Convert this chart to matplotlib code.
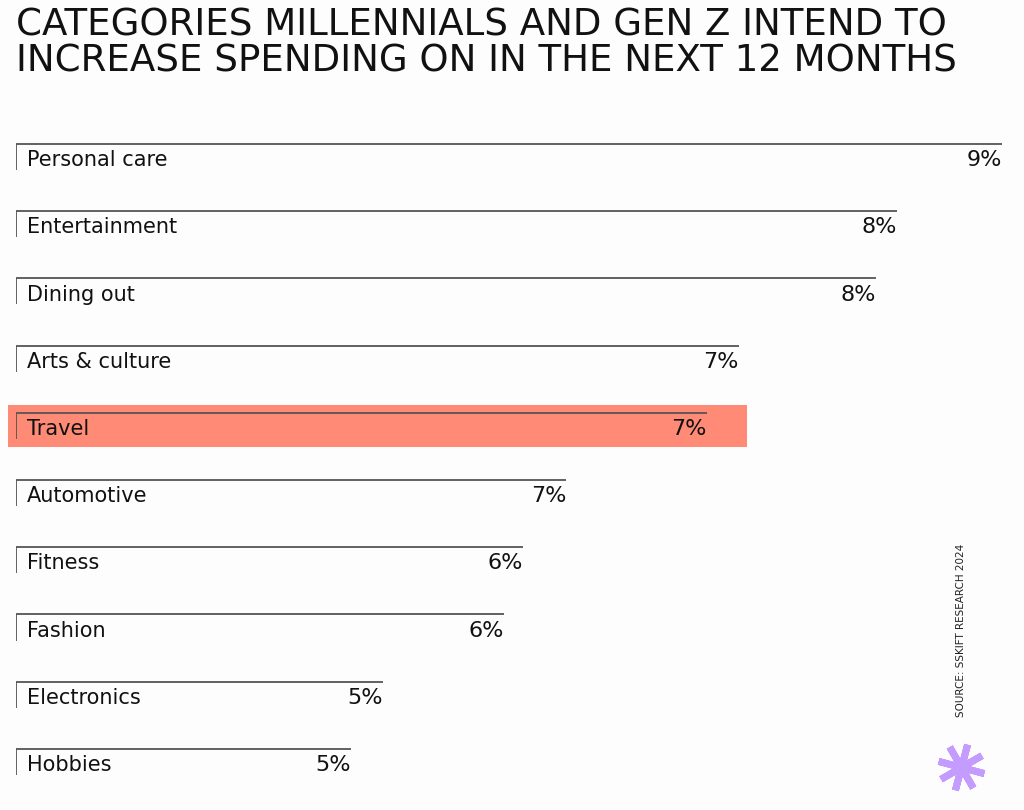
# Categories millennials and Gen Z intend to increase spending on (Skift Research 2024)
import matplotlib.pyplot as plt
from matplotlib.patches import Rectangle

# data (bar lengths are the underlying shares, labels are the printed rounded values)
categories = ['Personal care', 'Entertainment', 'Dining out', 'Arts & culture', 'Travel',
              'Automotive', 'Fitness', 'Fashion', 'Electronics', 'Hobbies']
values = [8.96, 8.37, 8.25, 7.48, 7.30, 6.51, 6.27, 6.16, 5.48, 5.30]
value_labels = ['9%', '8%', '8%', '7%', '7%', '7%', '6%', '6%', '5%', '5%']
highlight = 'Travel'

x_start = 3.42          # where the bars start on the value axis
line_col = '#555555'
hi_col = '#ff8a75'

plt.rcParams['font.family'] = ['DejaVu Sans']

W, H = 1024, 810
fig = plt.figure(figsize=(W / 100, H / 100), dpi=100, facecolor='#fdfdfd')

# main axes: left edge at bar start, one unit per category row
ax = fig.add_axes([16 / W, 10 / H, 1000 / W, 690 / H])
ax.set_xlim(x_start, x_start + 1000 / 178)
ax.set_ylim(9.76, -0.506)
ax.axis('off')

tick_len = 0.387
for i, (cat, v, lab) in enumerate(zip(categories, values, value_labels)):
    if cat == highlight:
        ax.add_patch(Rectangle((x_start - 8 / 178, i - 0.116), 739 / 178, 0.625,
                               facecolor=hi_col, edgecolor='none', zorder=0, clip_on=False))
    ax.hlines(i, x_start, v, color=line_col, lw=1.3, zorder=2)
    ax.vlines(x_start, i, i + tick_len, color=line_col, lw=1.3, zorder=2)
    ax.text(x_start + 11 / 178, i + 0.24, cat, fontsize=15, color='#111111',
            ha='left', va='center', zorder=3)
    ax.text(v, i + 0.24, lab, fontsize=16, color='#111111', ha='right', va='center',
            zorder=3)

# title
fig.text(16 / W, 1 - 7 / H, 'CATEGORIES MILLENNIALS AND GEN Z INTEND TO\nINCREASE SPENDING ON IN THE NEXT 12 MONTHS',
         fontsize=26.7, color='#111111', ha='left', va='top', linespacing=0.95)

# source note
fig.text(961 / W, 1 - 630 / H, 'SOURCE: SSKIFT RESEARCH 2024', fontsize=7.5, color='#222222',
         rotation=90, ha='center', va='center')

# purple asterisk logo
logo = fig.add_axes([936 / W, 1 - 792 / H, 50 / W, 50 / H])
logo.set_xlim(-1, 1)
logo.set_ylim(-1, 1)
logo.axis('off')
logo.plot([0], [0], marker=(8, 2, -15), markersize=34, markeredgewidth=5, color='#c49bff')

fig.savefig('out.png', dpi=100, facecolor=fig.get_facecolor())
